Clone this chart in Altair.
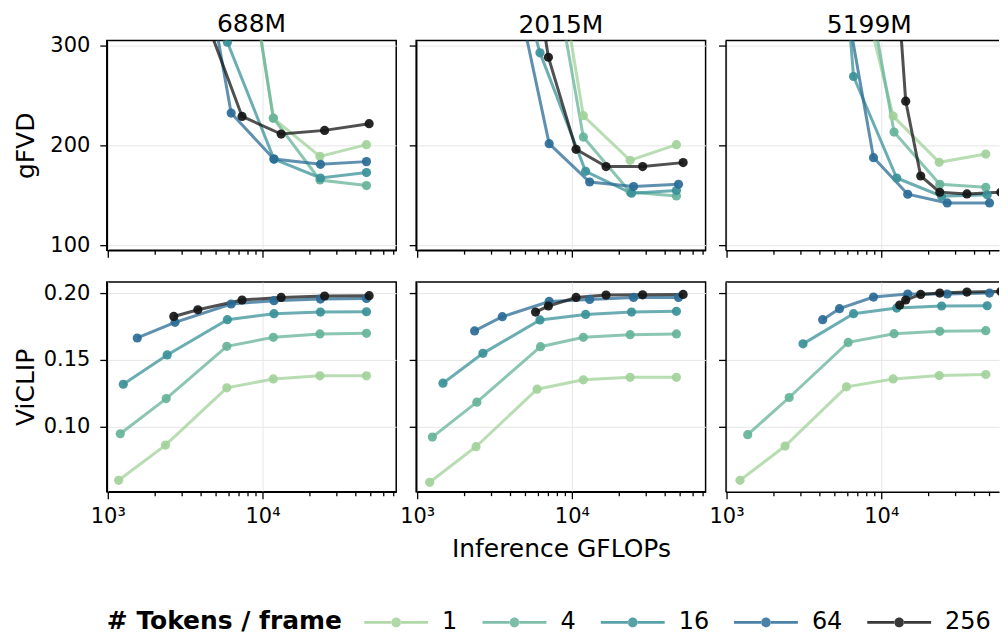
import math
import altair as alt
import pandas as pd

FONT = "DejaVu Sans"

models = ["688M", "2015M", "5199M"]
tokens = ["1", "4", "16", "64", "256"]
token_colors = ["#a2d19a", "#66b39a", "#3a9198", "#2a6b96", "#151515"]

# ---- 688M ----
gflops_688 = {
    "1": [1175, 2360, 5880, 11750, 23500, 47000],
    "4": [1204, 2384, 5880, 11750, 23500, 47000],
    "16": [1259, 2420, 5930, 11860, 23700, 47000],
    "64": [1550, 2720, 6270, 11860, 23700, 47000],
    "256": [2670, 3820, 7380, 13200, 25200, 48900],
}
gfvd_688 = {
    "1": [1100, 760, 530, 227.0, 189.0, 200.7],
    "4": [900, 700, 524, 227.3, 165.3, 159.7],
    "16": [700, 480, 303.3, 186.3, 167.3, 172.7],
    "64": [750, 550, 232.3, 186.3, 181.0, 183.7],
    "256": [450, 348, 229.0, 211.3, 215.0, 221.7],
}
viclip_688 = {
    "1": [0.0600, 0.0863, 0.1291, 0.1358, 0.1381, 0.1381],
    "4": [0.0948, 0.1211, 0.1602, 0.1669, 0.1694, 0.1699],
    "16": [0.1318, 0.1537, 0.1801, 0.1846, 0.1858, 0.1860],
    "64": [0.1664, 0.1781, 0.1918, 0.1943, 0.1955, 0.1960],
    "256": [0.1825, 0.1875, 0.1948, 0.1967, 0.1978, 0.1980],
}

# ---- 2015M ----
gflops_2015 = {
    "1": [1204, 2400, 5960, 11860, 23800, 47400],
    "4": [1253, 2430, 6270, 11860, 23800, 47400],
    "16": [1467, 2660, 6220, 12270, 24300, 47400],
    "64": [2350, 3550, 7130, 13030, 25050, 48900],
    "256": [5820, 7050, 10640, 16630, 28660, 52400],
}
gfvd_2015 = {
    "1": [1000, 750, 511, 229.7, 185.0, 200.7],
    "4": [850, 650, 452, 208.3, 153.3, 149.3],
    "16": [700, 500, 292.7, 174.0, 152.0, 154.7],
    "64": [560, 422, 201.7, 163.3, 158.7, 161.0],
    "256": [370, 288.3, 196.0, 178.7, 178.7, 182.7],
}
viclip_2015 = {
    "1": [0.0585, 0.0851, 0.1281, 0.1351, 0.1370, 0.1370],
    "4": [0.0923, 0.1184, 0.1599, 0.1669, 0.1689, 0.1694],
    "16": [0.1326, 0.1549, 0.1799, 0.1840, 0.1858, 0.1863],
    "64": [0.1717, 0.1823, 0.1937, 0.1952, 0.1967, 0.1967],
    "256": [0.1858, 0.1903, 0.1967, 0.1985, 0.1987, 0.1990],
}

# ---- 5199M ----
gflops_5199 = {
    "1": [1222, 2390, 5960, 11940, 23700, 47400],
    "4": [1370, 2540, 6110, 12100, 23900, 47400],
    "16": [3120, 6620, 12590, 24550, 48400],
    "64": [4180, 5370, 8910, 14830, 26700, 50100],
    "256": [13160, 14390, 17990, 23900, 35800, 59300],
}
gfvd_5199 = {
    "1": [1000, 750, 418, 229.3, 183.0, 191.3],
    "4": [850, 650, 471, 213.3, 161.0, 158.0],
    "16": [900, 269.0, 167.3, 149.0, 150.5],
    "64": [476, 380, 187.7, 151.0, 142.3, 142.3],
    "256": [330, 244.3, 169.3, 153.0, 151.3, 153.0],
}
viclip_5199 = {
    "1": [0.0600, 0.0856, 0.1299, 0.1358, 0.1383, 0.1391],
    "4": [0.0941, 0.1219, 0.1631, 0.1696, 0.1714, 0.1719],
    "16": [0.1620, 0.1846, 0.1888, 0.1903, 0.1905],
    "64": [0.1801, 0.1883, 0.1970, 0.1993, 0.1993, 0.2000],
    "256": [0.1910, 0.1948, 0.1990, 0.2000, 0.2007, 0.2012],
}

x_major = [1000, 10000]
x_minor = [2000, 3000, 4000, 5000, 6000, 7000, 8000, 9000,
           20000, 30000, 40000, 50000, 60000, 70000]
gfvd_ticks = [100, 200, 300]
viclip_ticks = [0.10, 0.15, 0.20]

sources = {
    "688M": (gflops_688, gfvd_688, viclip_688),
    "2015M": (gflops_2015, gfvd_2015, viclip_2015),
    "5199M": (gflops_5199, gfvd_5199, viclip_5199),
}

rows = []
for m in models:
    gx, gf, gv = sources[m]
    for t in tokens:
        for xv, fv, vv in zip(gx[t], gf[t], gv[t]):
            rows.append({"model": m, "tokens": t, "gflops": xv, "metric": "gFVD", "value": fv})
            rows.append({"model": m, "tokens": t, "gflops": xv, "metric": "ViCLIP", "value": vv})
df = pd.DataFrame(rows)

XMIN = 985
DECADE_PX = 155.0
PANEL_W = [290, 290, 274]
PANEL_H = 210

is_major = "abs(log(datum.value)/LN10 - round(log(datum.value)/LN10)) < 0.001"
color_scale = alt.Scale(domain=tokens, range=token_colors)

sym_path = ("M-1,-0.045H-0.14V0.045H-1Z M0.14,-0.045H1V0.045H0.14Z "
            "M-0.15,0A0.15,0.15,0,1,0,0.15,0A0.15,0.15,0,1,0,-0.15,0Z")

legend = alt.Legend(
    title="# Tokens / frame",
    orient="none",
    direction="horizontal",
    legendX=0,
    legendY=551,
    titleOrient="left",
    titleAnchor="end",
    titleBaseline="bottom",
    titleFontWeight="bold",
    titleFontSize=25,
    titleFont=FONT,
    titleColor="black",
    titleLimit=500,
    titlePadding=22,
    labelFontSize=24,
    labelFont=FONT,
    labelColor="black",
    labelOffset=14,
    columnPadding=24.5,
    symbolType=sym_path,
    symbolSize=4096,
    symbolStrokeWidth=0,
    symbolOpacity=0.85,
)


def panel(mi, metric):
    w = PANEL_W[mi]
    xmax = 10 ** (math.log10(XMIN) + w / DECADE_PX)
    ticks = [v for v in x_major + x_minor if v <= xmax]
    data = df[(df.model == models[mi]) & (df.metric == metric)]
    bottom = metric == "ViCLIP"
    xaxis = alt.Axis(
        values=ticks,
        labels=bottom,
        labelExpr="datum.value == 1000 ? '10³' : datum.value == 10000 ? '10⁴' : ''",
        title="Inference GFLOPs" if (bottom and mi == 1) else None,
        tickSize=alt.condition(is_major, alt.value(7), alt.value(4)),
        gridOpacity=alt.condition(is_major, alt.value(1), alt.value(0)),
        labelPadding=7,
        titlePadding=10,
    )
    if metric == "gFVD":
        ydom = [95, 305]
        yt = gfvd_ticks
        fmt = "d"
    else:
        ydom = [0.0515, 0.2082]
        yt = viclip_ticks
        fmt = ".2f"
    yaxis = alt.Axis(
        values=yt,
        format=fmt,
        labels=(mi == 0),
        title=metric if mi == 0 else None,
        titleX=-68,
        tickSize=7,
        labelPadding=10,
        titlePadding=4.5,
    )
    x = alt.X("gflops:Q", scale=alt.Scale(type="log", domain=[XMIN, xmax], nice=False), axis=xaxis)
    y = alt.Y("value:Q", scale=alt.Scale(domain=ydom, nice=False, zero=False), axis=yaxis)
    base = alt.Chart(data)
    lines = base.mark_line(clip=True, strokeWidth=3, opacity=0.75).encode(
        x=x, y=y,
        color=alt.Color("tokens:N", scale=color_scale, legend=legend),
        detail="tokens:N",
        order="gflops:Q",
    )
    pts = base.mark_circle(clip=True, size=85, opacity=0.92).encode(
        x=x, y=y,
        color=alt.Color("tokens:N", scale=color_scale, legend=legend),
    )
    props = dict(width=w, height=PANEL_H)
    if mi == 2:
        # the right-most panel is cut by the page edge: frame only on top
        props["view"] = alt.ViewBackground(strokeDash=[w, 4000])
    ch = alt.layer(lines, pts).properties(**props)
    if not bottom:
        # the first panel's top tick label pushes its title up; compensate
        off = -2.5 if mi == 0 else 3
        ch = ch.properties(title=alt.Title(models[mi], fontSize=25, font=FONT,
                                            fontWeight="normal", color="black", offset=off,
                                            frame="group",
                                            dx=7 if mi == 2 else 0))
    return ch


panels = [panel(i, "gFVD") for i in range(3)] + [panel(i, "ViCLIP") for i in range(3)]

chart = alt.concat(
    *panels, columns=3, spacing=alt.RowColnumber(row=32, column=20), bounds="flush"
).properties(
    padding={"left": 5, "top": 2, "right": 0, "bottom": 0}
).configure_axis(
    domainColor="black", domainWidth=1.5,
    tickColor="black", tickWidth=1.3,
    labelFont=FONT, titleFont=FONT,
    labelFontSize=21, titleFontSize=25, titleFontWeight="normal",
    labelColor="black", titleColor="black",
    gridColor="#e6e6e6", gridWidth=1,
).configure_view(
    stroke="black", strokeWidth=1.5
)

chart.save("out.html", embed_options={"renderer": "svg", "actions": False})
